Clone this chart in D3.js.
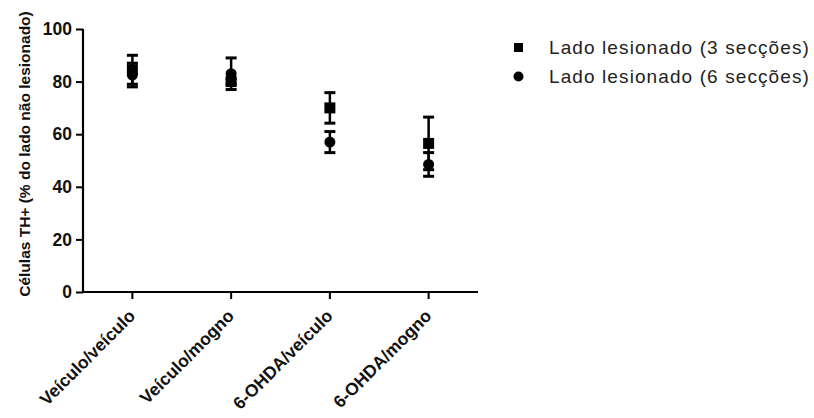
<!DOCTYPE html>
<html><head><meta charset="utf-8">
<script src="https://cdn.jsdelivr.net/npm/d3@7"></script>
<style>body{margin:0;background:#fff;} svg{display:block;}</style>
</head><body>
<svg id="c" width="814" height="418"></svg>
<script>
const categories = ["Veículo/veículo", "Veículo/mogno", "6-OHDA/veículo", "6-OHDA/mogno"];
const seriesNames = ["Lado lesionado (3 secções)", "Lado lesionado (6 secções)"];
const mean3 = [84.5, 80, 70, 56.5];
const err3 = [5.5, 1, 5.8, 10];
const mean6 = [82.5, 83, 57, 48.5];
const err6 = [4.5, 6, 4, 4.5];
const yTicks = [0, 20, 40, 60, 80, 100];
const yTitle = "Células TH+ (% do lado não lesionado)";

const svg = d3.select("#c");
const x = d3.scaleBand().domain(categories).range([83, 478]);
const y = d3.scaleLinear().domain([0, 100]).range([292, 29]);

// axes
const yAx = svg.append("g").attr("transform", "translate(83,0)")
  .call(d3.axisLeft(y).tickValues(yTicks).tickSize(7).tickPadding(4).tickFormat(d3.format("d")));
const xAx = svg.append("g").attr("transform", "translate(0,292)")
  .call(d3.axisBottom(x).tickSize(7).tickSizeOuter(0).tickFormat(""));
[yAx, xAx].forEach(g => {
  g.select(".domain").attr("stroke", "#000").attr("stroke-width", 2.2);
  g.selectAll(".tick line").attr("stroke", "#000").attr("stroke-width", 2);
});
yAx.select(".domain").attr("d", "M0,29V293");
xAx.select(".domain").attr("d", "M82,0H478");
yAx.selectAll(".tick text").attr("font-family", "Liberation Sans, Arial, sans-serif")
  .attr("font-size", 17.5).attr("font-weight", "bold").attr("fill", "#111");

// x labels
svg.append("g").selectAll("text").data(categories).join("text")
  .attr("transform", d => `translate(${x(d) + x.bandwidth() / 2 + 4},317) rotate(-45)`)
  .attr("text-anchor", "end")
  .attr("font-family", "Liberation Sans, Arial, sans-serif")
  .attr("font-size", 17.5).attr("font-weight", "bold").attr("fill", "#111")
  .text(d => d);

// y title
svg.append("text")
  .attr("transform", "translate(30,154) rotate(-90)")
  .attr("text-anchor", "middle")
  .attr("font-family", "Liberation Sans, Arial, sans-serif")
  .attr("font-size", 15.5).attr("font-weight", "bold").attr("fill", "#111")
  .text(yTitle);

// error bars
function errBars(means, errs) {
  const g = svg.append("g").attr("stroke", "#000");
  categories.forEach((c, i) => {
    const cx = x(c) + x.bandwidth() / 2;
    const top = y(means[i] + errs[i]), bot = y(means[i] - errs[i]);
    g.append("line").attr("x1", cx).attr("x2", cx).attr("y1", top).attr("y2", bot).attr("stroke-width", 2.5);
    g.append("line").attr("x1", cx - 5.5).attr("x2", cx + 5.5).attr("y1", top).attr("y2", top).attr("stroke-width", 3);
    g.append("line").attr("x1", cx - 5.5).attr("x2", cx + 5.5).attr("y1", bot).attr("y2", bot).attr("stroke-width", 3);
  });
}
errBars(mean3, err3);
errBars(mean6, err6);

const sq = 11, r = 5.5;
svg.append("g").selectAll("rect").data(mean3).join("rect")
  .attr("x", (d, i) => x(categories[i]) + x.bandwidth() / 2 - sq / 2)
  .attr("y", d => y(d) - sq / 2)
  .attr("width", sq).attr("height", sq).attr("fill", "#000");
svg.append("g").selectAll("circle").data(mean6).join("circle")
  .attr("cx", (d, i) => x(categories[i]) + x.bandwidth() / 2)
  .attr("cy", d => y(d)).attr("r", r).attr("fill", "#000");

// legend
const lg = svg.append("g");
seriesNames.forEach((s, i) => {
  const cy = 47.5 + i * 29;
  if (i === 0) lg.append("rect").attr("x", 514).attr("y", cy - 4.5).attr("width", 9).attr("height", 9).attr("fill", "#000");
  else lg.append("circle").attr("cx", 518.5).attr("cy", cy).attr("r", 5).attr("fill", "#000");
  lg.append("text").attr("x", 549).attr("y", cy + 6)
    .attr("font-family", "Liberation Sans, Arial, sans-serif")
    .attr("font-size", 19).attr("letter-spacing", "1.1px").attr("fill", "#222")
    .text(s);
});
</script>
</body></html>
